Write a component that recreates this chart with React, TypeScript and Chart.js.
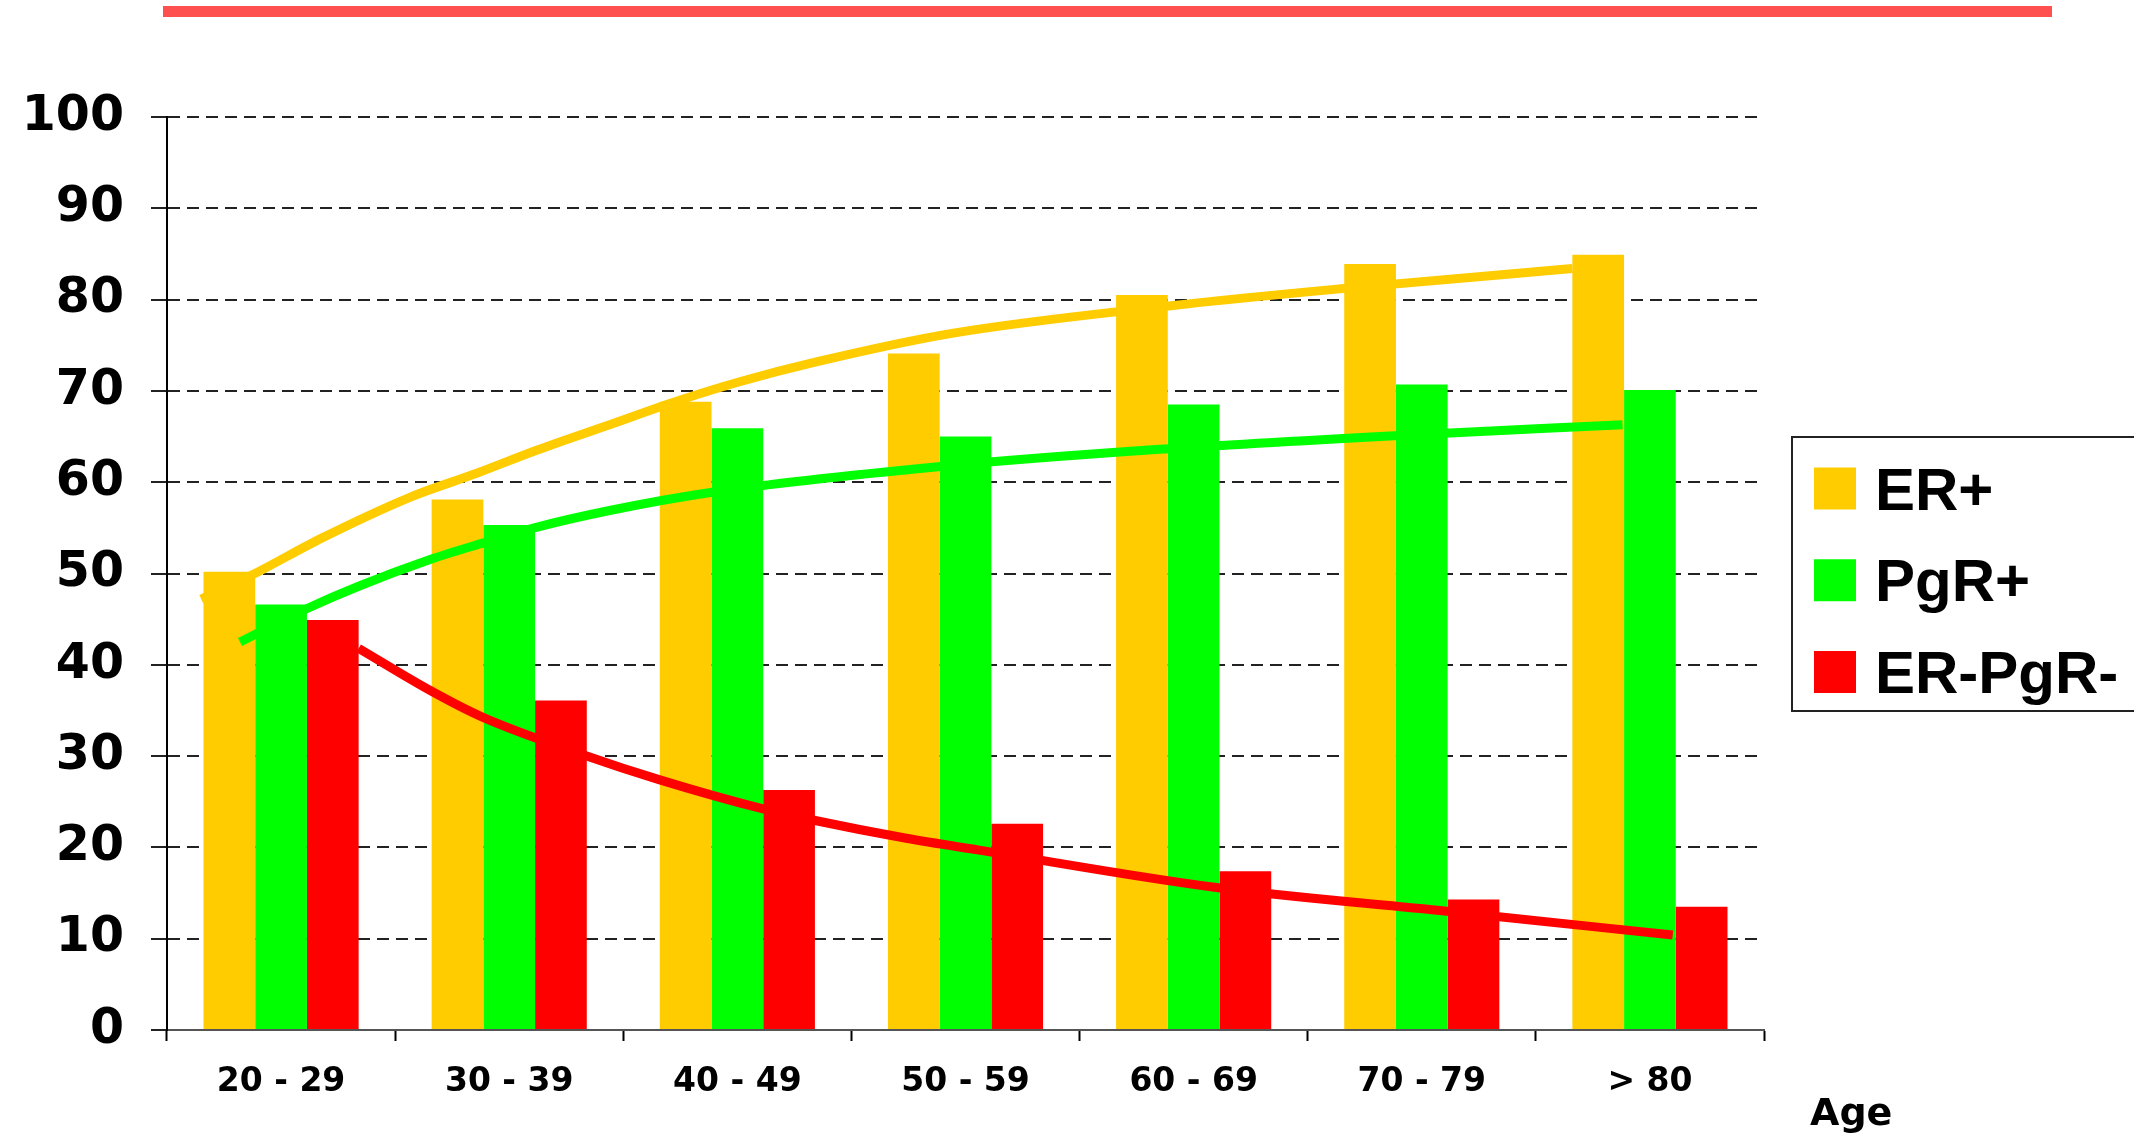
import React, { useEffect, useRef } from 'react';
import { Chart, registerables } from 'chart.js';

Chart.register(...registerables);

// ---- data ----
const categories = ['20 - 29', '30 - 39', '40 - 49', '50 - 59', '60 - 69', '70 - 79', '> 80'];
const seriesLabels = ['ER+', 'PgR+', 'ER-PgR-'];

const erPositive = [50.2, 58.1, 68.8, 74.1, 80.5, 83.9, 84.9];
const pgrPositive = [46.6, 55.3, 65.9, 65.0, 68.5, 70.7, 70.1];
const erPgrNegative = [44.9, 36.1, 26.3, 22.6, 17.4, 14.3, 13.5];

// trend curves: position in category units (0 = first category centre) and value
const erTrendX = [-0.35, -0.13, 0.18, 0.57, 0.86, 1.12, 1.44, 1.75, 2.01, 2.35, 2.94, 3.89, 4.65, 5.66];
const erTrendY = [47.2, 49.8, 53.9, 58.4, 61.0, 63.5, 66.3, 69.0, 71.0, 73.2, 76.3, 79.3, 81.2, 83.4];
const pgrTrendX = [-0.18, 0.1, 0.34, 0.65, 0.88, 1.11, 1.44, 1.89, 2.88, 3.85, 4.88, 5.88];
const pgrTrendY = [42.5, 46.0, 48.6, 51.5, 53.3, 55.0, 56.9, 58.9, 61.7, 63.6, 65.1, 66.3];
const negTrendX = [0.34, 0.66, 0.88, 1.33, 1.66, 2.1, 2.33, 2.74, 3.06, 4.1, 5.11, 6.1];
const negTrendY = [41.8, 37.1, 34.3, 30.1, 27.4, 24.3, 23.0, 21.0, 19.7, 15.6, 13.0, 10.4];

const yMin = 0;
const yMax = 100;
const yStep = 10;
const xAxisTitle = 'Age';

const barColors = ['#ffcc00', '#00ff00', '#ff0000'];

const W = 2134;
const H = 1137;

const toPoints = (xs: number[], ys: number[]) => xs.map((x, i) => ({ x, y: ys[i] }));
const byCategory = (values: number[]) => values.map((y, i) => ({ x: i, y }));

const boxLegendPlugin = {
  id: 'boxLegend',
  afterDraw(chart: any) {
    const { ctx, chartArea } = chart;
    const left = chartArea.right + 28;
    const top = chartArea.top + 320;
    const bottom = chartArea.top + 594;
    ctx.save();
    ctx.strokeStyle = '#222';
    ctx.lineWidth = 2;
    ctx.strokeRect(left, top, chart.width - left + 20, bottom - top);
    const bars = chart.data.datasets.filter((d: any) => d.type !== 'line');
    bars.forEach((ds: any, i: number) => {
      const cy = top + 51.5 + i * 91.75;
      ctx.fillStyle = ds.backgroundColor;
      ctx.fillRect(left + 22, cy - 21, 42, 42);
      ctx.fillStyle = '#000';
      ctx.font = 'bold 60px "Liberation Sans", Arial, sans-serif';
      ctx.textBaseline = 'alphabetic';
      ctx.textAlign = 'left';
      ctx.fillText(ds.label, left + 83, cy + 21);
    });
    ctx.font = 'bold 38px "DejaVu Sans", Verdana, sans-serif';
    ctx.fillStyle = '#000';
    ctx.textBaseline = 'alphabetic';
    ctx.textAlign = 'left';
    ctx.fillText(xAxisTitle, chartArea.right + 46, H - 12);
    ctx.restore();
  },
};

export default function App() {
  const ref = useRef<HTMLCanvasElement>(null);

  useEffect(() => {
    if (!ref.current) return;
    const lineBase = {
      type: 'line' as const,
      xAxisID: 'x',
      yAxisID: 'y',
      borderWidth: 9,
      pointRadius: 0,
      fill: false,
      cubicInterpolationMode: 'monotone' as const,
      borderCapStyle: 'butt' as const,
      order: 1,
    };
    const barBase = {
      type: 'bar' as const,
      xAxisID: 'x',
      yAxisID: 'y',
      categoryPercentage: 0.68,
      barPercentage: 1,
      borderWidth: 0,
      order: 2,
    };
    const chart = new Chart(ref.current, {
      type: 'bar',
      data: {
        datasets: [
          { ...barBase, label: seriesLabels[0], data: byCategory(erPositive), backgroundColor: barColors[0] },
          { ...barBase, label: seriesLabels[1], data: byCategory(pgrPositive), backgroundColor: barColors[1] },
          { ...barBase, label: seriesLabels[2], data: byCategory(erPgrNegative), backgroundColor: barColors[2] },
          { ...lineBase, label: 'ER+ trend', data: toPoints(erTrendX, erTrendY), borderColor: barColors[0] },
          { ...lineBase, label: 'PgR+ trend', data: toPoints(pgrTrendX, pgrTrendY), borderColor: barColors[1] },
          { ...lineBase, label: 'ER-PgR- trend', data: toPoints(negTrendX, negTrendY), borderColor: barColors[2] },
        ] as any,
      },
      options: {
        responsive: false,
        animation: false,
        devicePixelRatio: 1,
        layout: { padding: { top: 117, right: 370, bottom: 0, left: 0 } },
        plugins: {
          legend: { display: false },
          tooltip: { enabled: false },
        },
        scales: {
          x: {
            type: 'linear',
            min: -0.5,
            max: categories.length - 0.5,
            offset: false,
            afterBuildTicks: (s: any) => {
              s.ticks = categories.map((_, i) => ({ value: i }));
            },
            grid: {
              display: true,
              offset: true,
              drawOnChartArea: false,
              drawTicks: true,
              tickLength: 11,
              tickWidth: 2,
              tickColor: '#000',
            },
            border: { display: true, color: '#555', width: 2 },
            ticks: {
              color: '#000',
              font: { family: '"DejaVu Sans", Verdana, sans-serif', weight: 'bold', size: 33 },
              padding: 22,
              maxRotation: 0,
              autoSkip: false,
              callback: (v: any) => categories[Math.round(Number(v))] ?? '',
            },
            afterFit: (s: any) => {
              s.height = 107;
            },
          },
          y: {
            type: 'linear',
            min: yMin,
            max: yMax,
            offset: false,
            ticks: {
              stepSize: yStep,
              color: '#000',
              font: { family: '"DejaVu Sans", Verdana, sans-serif', weight: 'bold', size: 49 },
              padding: 27,
            },
            grid: {
              offset: false,
              color: '#222',
              lineWidth: 2,
              drawTicks: true,
              tickLength: 16,
              tickColor: '#222',
              tickWidth: 2,
            },
            border: { display: true, color: '#000', width: 2, dash: [12, 7] },
            afterFit: (s: any) => {
              s.width = 167;
            },
          },
        } as any,
      },
      plugins: [boxLegendPlugin],
    });
    return () => chart.destroy();
  }, []);

  return (
    <div style={{ position: 'fixed', left: 0, top: 0, width: W, height: H, background: '#fff', overflow: 'hidden' }}>
      <div style={{ position: 'absolute', left: 163, top: 6, width: 1889, height: 11, background: '#ff5050' }} />
      <canvas ref={ref} width={W} height={H} style={{ position: 'absolute', left: 0, top: 0, width: W, height: H }} />
    </div>
  );
}
